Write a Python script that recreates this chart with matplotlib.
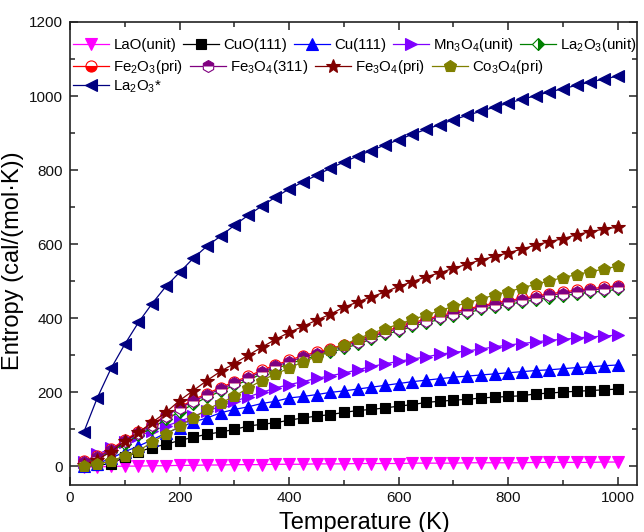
import matplotlib
matplotlib.use("Agg")
import matplotlib.pyplot as plt
from matplotlib.ticker import MultipleLocator

plt.rcParams['font.family'] = ['Liberation Sans', 'DejaVu Sans']
plt.rcParams['mathtext.fontset'] = 'custom'
plt.rcParams['mathtext.rm'] = 'Liberation Sans'

temperature = list(range(25, 1001, 25))

lao_unit = [-2, -1, 0, 1, 1, 2, 2, 3, 3, 4, 4, 5, 5, 5, 6, 6, 6, 7, 7, 7,
            8, 8, 8, 8, 9, 9, 9, 9, 10, 10, 10, 10, 10, 11, 11, 11, 11, 11, 12, 12]
cuo_111 = [0, 3, 8, 25, 40, 51, 60, 70, 79, 87, 93, 100, 109, 114, 118, 125, 131, 136, 140, 146,
           151, 154, 158, 163, 167, 173, 176, 179, 181, 185, 187, 189, 191, 196, 198, 201, 203, 205, 207, 209]
cu_111 = [2, 8, 22, 40, 55, 72, 90, 105, 120, 131, 145, 154, 161, 170, 176, 185, 189, 194, 200, 204,
          209, 214, 219, 224, 229, 233, 237, 241, 244, 247, 250, 253, 256, 259, 261, 264, 267, 269, 272, 274]
mn3o4_unit = [12, 33, 49, 65, 82, 96, 109, 122, 136, 149, 163, 176, 188, 200, 212, 221, 229, 238, 245, 252,
              261, 270, 277, 284, 290, 296, 303, 308, 312, 317, 323, 328, 332, 336, 341, 343, 347, 350, 352, 355]
la2o3_unit = [10, 22, 40, 62, 84, 104, 127, 148, 168, 187, 203, 219, 233, 250, 264, 277, 289, 299, 308, 319,
              330, 344, 357, 366, 378, 388, 397, 406, 415, 424, 431, 438, 444, 450, 456, 461, 466, 470, 474, 478]
fe2o3_pri = [14, 27, 47, 72, 94, 114, 138, 160, 180, 197, 213, 229, 243, 260, 274, 287, 299, 309, 318, 329,
             340, 354, 366, 376, 388, 398, 407, 416, 425, 434, 441, 448, 454, 460, 466, 471, 476, 480, 484, 488]
fe3o4_311 = [12, 25, 45, 68, 90, 112, 136, 158, 176, 193, 209, 225, 239, 256, 270, 283, 295, 305, 314, 325,
             336, 350, 363, 372, 384, 394, 403, 412, 421, 430, 437, 444, 450, 456, 462, 467, 472, 476, 480, 484]
fe3o4_pri = [5, 18, 40, 68, 92, 119, 146, 178, 205, 232, 257, 278, 300, 322, 343, 362, 378, 395, 411, 430,
             444, 458, 471, 486, 499, 512, 523, 535, 546, 558, 567, 577, 587, 598, 607, 615, 626, 634, 641, 646]
co3o4_pri = [0, 7, 14, 29, 42, 66, 87, 109, 131, 154, 172, 189, 212, 232, 250, 265, 283, 296, 314, 329,
             345, 359, 372, 384, 397, 408, 421, 432, 442, 452, 463, 472, 482, 492, 501, 510, 518, 526, 533, 541]
la2o3_star = [92, 186, 265, 330, 389, 440, 486, 524, 562, 595, 622, 651, 678, 703, 727, 749, 768, 786, 805, 822,
              838, 853, 868, 882, 897, 910, 923, 936, 948, 959, 970, 981, 991, 1001, 1011, 1020, 1029, 1038, 1046, 1054]

sub = lambda s: r'$_\mathregular{' + s + '}$'
series = [
    ("LaO(unit)", lao_unit, '#FF00FF', 'v', 8.8, 'full'),
    ("CuO(111)", cuo_111, '#000000', 's', 7, 'full'),
    ("Cu(111)", cu_111, '#0000FF', '^', 8.8, 'full'),
    ("Mn" + sub('3') + "O" + sub('4') + "(unit)", mn3o4_unit, '#8000FF', '>', 8.8, 'full'),
    ("La" + sub('2') + "O" + sub('3') + "(unit)", la2o3_unit, '#008000', 'D', 6, 'right'),
    ("Fe" + sub('2') + "O" + sub('3') + "(pri)", fe2o3_pri, '#FF0000', 'o', 8, 'bottom'),
    ("Fe" + sub('3') + "O" + sub('4') + "(311)", fe3o4_311, '#800080', 'h', 8.6, 'top'),
    ("Fe" + sub('3') + "O" + sub('4') + "(pri)", fe3o4_pri, '#800000', '*', 10.5, 'full'),
    ("Co" + sub('3') + "O" + sub('4') + "(pri)", co3o4_pri, '#808000', 'p', 9.2, 'full'),
    ("La" + sub('2') + "O" + sub('3') + "*", la2o3_star, '#000080', '<', 8.8, 'full'),
]

fig = plt.figure(figsize=(6.44, 5.32), dpi=100)
ax = fig.add_axes([70 / 644, 1 - 485 / 532, 567 / 644, 463 / 532])

handles = []
for label, vals, color, marker, ms, fill in series:
    kw = dict(color=color, lw=0.9, marker=marker, markersize=ms,
              markerfacecolor=color, markeredgecolor=color, markeredgewidth=0.8,
              fillstyle=fill, label=label)
    if fill != 'full':
        kw['markerfacecoloralt'] = 'white'
    line, = ax.plot(temperature, vals, **kw)
    handles.append(line)

ax.set_xlim(0, 1035)
ax.set_ylim(-50, 1200)
ax.xaxis.set_major_locator(MultipleLocator(200))
ax.xaxis.set_minor_locator(MultipleLocator(100))
ax.yaxis.set_major_locator(MultipleLocator(200))
ax.yaxis.set_minor_locator(MultipleLocator(100))
ax.tick_params(which='both', direction='in', top=True, right=True, colors='#222222',
               labelsize=11, labelcolor='#111111')
ax.tick_params(which='major', length=6, width=1.1)
ax.tick_params(which='minor', length=3.5, width=1.1)
ax.tick_params(axis='y', pad=5)
ax.tick_params(axis='x', pad=4)
for sp in ax.spines.values():
    sp.set_linewidth(1.2)
    sp.set_color('#222222')

ax.set_xlabel("Temperature (K)", fontsize=17)
ax.set_ylabel("Entropy (cal/(mol\u00b7K))", fontsize=17)
ax.xaxis.label.set_va('center')
ax.yaxis.label.set_va('center')
ax.xaxis.set_label_coords(0.52, -0.081)
ax.yaxis.set_label_coords(-0.100, 0.485)

rows = [(handles[0:5], 0.970), (handles[5:9], 0.922), (handles[9:10], 0.878)]
leg_kw = dict(loc='upper left', frameon=False, fontsize=10.8, borderpad=0, borderaxespad=0,
              handlelength=2.4, handletextpad=0.27, columnspacing=0.45)
for i, (hs, y) in enumerate(rows):
    leg = ax.legend(handles=hs, ncol=len(hs), bbox_to_anchor=(0.006, y), **leg_kw)
    if i < len(rows) - 1:
        ax.add_artist(leg)

fig.savefig("out.png", dpi=100)
